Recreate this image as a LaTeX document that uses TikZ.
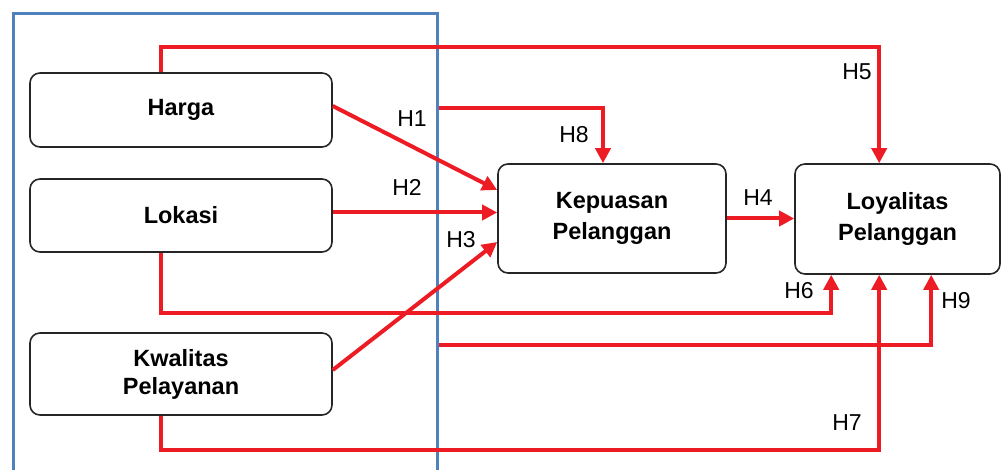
\documentclass[tikz,border=0pt]{standalone}
\usepackage{fontspec}
\setmainfont{Liberation Sans}
\usetikzlibrary{arrows.meta}
\definecolor{grpblue}{RGB}{79,129,189}
\definecolor{linkred}{RGB}{237,28,36}
\begin{document}
\begin{tikzpicture}[x=0.5pt,y=-0.5pt,
  var/.style={draw=black!85, line width=0.8pt, rounded corners=5pt, align=center,
    font=\bfseries\fontsize{11.75}{14}\selectfont, inner sep=0pt},
  wide/.style={font=\bfseries\fontsize{11.75}{15.5}\selectfont},
  link/.style={draw=linkred, line width=2pt, -{Triangle[length=7.5pt,width=7.5pt]}},
  hlab/.style={font=\fontsize{11.5}{14}\selectfont, inner sep=0pt}]
\useasboundingbox (0,0) rectangle (1002,470);
\clip (0,0) rectangle (1002,470);

% group frame round the independent variables (open at the bottom)
\node[draw=grpblue, line width=1.6pt, anchor=north west, inner sep=0pt,
      minimum width=212pt, minimum height=260pt] (grp) at (12,12) {};

% variables
\node[var, minimum width=151pt, minimum height=37pt] (harga) at (181,110) {Harga};
\node[var, minimum width=151pt, minimum height=36.5pt] (lokasi) at (181,215.5) {Lokasi};
\node[var, minimum width=151pt, minimum height=41pt] (kwal) at (181,374) {Kwalitas\\Pelayanan};
\node[var, wide, minimum width=114pt, minimum height=54.5pt] (kep) at (612,218.5) {Kepuasan\\Pelanggan};
\node[var, wide, minimum width=102.5pt, minimum height=55pt] (loyal) at (897.5,219) {Loyalitas\\Pelanggan};

% hypotheses
\draw[link] ([yshift=2pt]harga.east) -- ([yshift=14.25pt]kep.west);
\draw[link] ([yshift=1.5pt]lokasi.east) -- ([yshift=3pt]kep.west);
\draw[link] ([yshift=2pt]kwal.east) -- ([yshift=-11.75pt]kep.west);
\draw[link] (kep.east) -- (kep.east -| loyal.west);
\draw[link] ([xshift=66pt]harga.north west) -- ++(0,-25) -| ([xshift=42.5pt]loyal.north west);
\draw[link] ([xshift=66pt]lokasi.south west) -- ++(0,60) -| ([xshift=18.5pt]loyal.south west);
\draw[link] ([xshift=66pt]kwal.south west) -- ++(0,34) -| ([xshift=42.5pt]loyal.south west);
\draw[link] ([yshift=-48pt]grp.north east) -| ([xshift=-4.5pt]kep.north);
\draw[link] ([yshift=-166.5pt]grp.north east) -| ([xshift=68.5pt]loyal.south west);

% labels
\node[hlab] (h1) at (412,119) {H1};
\node[hlab] (h2) at (407,187) {H2};
\node[hlab] (h3) at (461,240) {H3};
\node[hlab] (h4) at (758,198) {H4};
\node[hlab] (h5) at (857,72) {H5};
\node[hlab] (h6) at (799,291) {H6};
\node[hlab] (h7) at (847,423) {H7};
\node[hlab] (h8) at (574,135) {H8};
\node[hlab] (h9) at (956,301) {H9};
\end{tikzpicture}
\end{document}
